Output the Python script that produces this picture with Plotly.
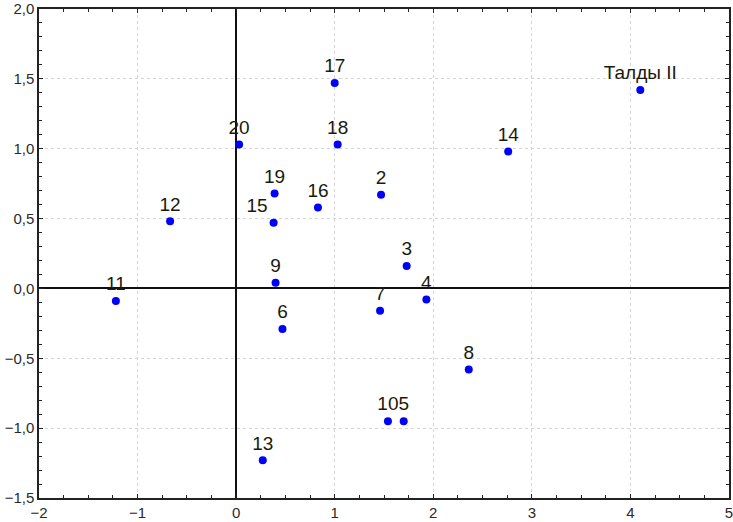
import plotly.graph_objects as go

# координаты точек (факторы 1 и 2)
names = ["20", "12", "11", "9", "6", "13", "7", "4", "8", "10", "5", "3",
         "17", "18", "19", "16", "2", "15", "14", "Талды II"]
x_vals = [0.03, -0.67, -1.22, 0.40, 0.47, 0.27, 1.46, 1.93, 2.36, 1.54, 1.70, 1.73,
          1.00, 1.03, 0.39, 0.83, 1.47, 0.38, 2.76, 4.10]
y_vals = [1.03, 0.48, -0.09, 0.04, -0.29, -1.23, -0.16, -0.08, -0.58, -0.95, -0.95, 0.16,
          1.47, 1.03, 0.68, 0.58, 0.67, 0.47, 0.98, 1.42]
positions = ["top center"] * len(names)
positions[names.index("15")] = "top left"

x_ticks = [-2, -1, 0, 1, 2, 3, 4, 5]
y_ticks = [-1.5, -1.0, -0.5, 0.0, 0.5, 1.0, 1.5, 2.0]

fig = go.Figure()
fig.add_trace(go.Scatter(
    x=x_vals, y=y_vals, mode="markers+text", text=names,
    textposition=positions,
    textfont=dict(family="Liberation Sans, Arial", size=19, color="#1a1a0c"),
    marker=dict(color="#0000ff", size=8),
    cliponaxis=False, hoverinfo="x+y+text",
))

axis_common = dict(
    showline=True, linecolor="#222", linewidth=1.5, mirror="allticks",
    ticks="inside", ticklen=4, tickcolor="#222",
    showgrid=True, gridcolor="#d4d4d4", griddash="dot", gridwidth=1,
    zeroline=True, zerolinecolor="#111", zerolinewidth=1.5,
    tickfont=dict(family="Liberation Sans, Arial", size=15, color="#2a2a2a"),
    ticklabeloverflow="allow",
    automargin=False,
)

fig.update_xaxes(range=[-2, 5], tickvals=x_ticks, tickformat="d",
                 minor=dict(dtick=0.25, ticks="inside", ticklen=3, tickcolor="#222", showgrid=False),
                 **axis_common)
fig.update_yaxes(range=[-1.5, 2.0], tickvals=y_ticks, tickformat=".1f",
                 minor=dict(dtick=0.1, ticks="inside", ticklen=3, tickcolor="#222", showgrid=False),
                 **axis_common)

fig.update_layout(
    width=733, height=522,
    margin=dict(l=39, r=4, t=9, b=24, autoexpand=False),
    plot_bgcolor="white", paper_bgcolor="white",
    separators=",.",
    showlegend=False,
)

# убрать отступ body, чтобы график начинался с угла окна
fig.write_html("out.html", config={"displayModeBar": False},
               post_script="document.body.style.margin='0px';")
